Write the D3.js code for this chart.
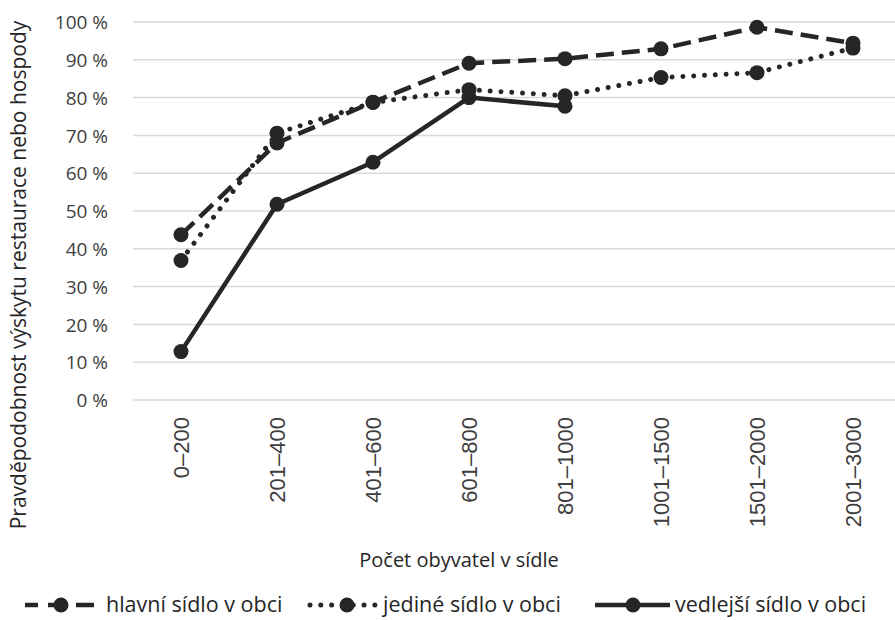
<!DOCTYPE html>
<html><head><meta charset="utf-8">
<script src="https://cdn.jsdelivr.net/npm/d3@7"></script>
<style>body{margin:0;background:#fff}svg{display:block}</style>
</head><body>
<script>
const categories = ["0–200","201–400","401–600","601–800","801–1000","1001–1500","1501–2000","2001–3000"];
const hlavni   = [43.7, 68.0, 78.8, 89.1, 90.3, 92.9, 98.6, 94.4];
const jedine   = [36.9, 70.6, 78.7, 82.1, 80.5, 85.3, 86.6, 93.1];
const vedlejsi = [12.8, 51.8, 62.9, 80.0, 77.7, null, null, null];
const yTicks = [0,10,20,30,40,50,60,70,80,90,100];
const seriesNames = ["hlavní sídlo v obci","jediné sídlo v obci","vedlejší sídlo v obci"];
const yTitle = "Pravděpodobnost  výskytu restaurace nebo hospody";
const xTitle = "Počet obyvatel v sídle";

const W = 895, H = 620;
const col = "#262626";
const svg = d3.select("body").append("svg").attr("width", W).attr("height", H);

const x = d3.scaleBand().domain(categories).range([133, 901]);
const y = d3.scaleLinear().domain([0, 100]).range([400, 22]);
const cx = c => x(c) + x.bandwidth() / 2;

// gridlines
svg.append("g").selectAll("line").data(yTicks).join("line")
  .attr("x1", 133).attr("x2", 900)
  .attr("y1", d => y(d)).attr("y2", d => y(d))
  .attr("stroke", "#d9d9d9").attr("stroke-width", 1.5);

// y axis labels
const yAxis = d3.axisLeft(y).tickValues(yTicks).tickFormat(d => d + " %").tickSize(0).tickPadding(0);
const yg = svg.append("g").attr("transform", "translate(108,0)").call(yAxis);
yg.select(".domain").remove();
yg.selectAll("text").attr("font-family", "Open Sans").attr("font-size", 19).attr("fill", "#404040").attr("dy", "0.35em");

// x axis labels
const xAxis = d3.axisBottom(x).tickSize(0).tickPadding(0);
const xg = svg.append("g").attr("transform", "translate(0,417)").call(xAxis);
xg.select(".domain").remove();
xg.selectAll("text")
  .attr("font-family", "Liberation Sans").attr("font-size", 22).attr("fill", "#404040")
  .attr("text-anchor", "end").attr("y", 0).attr("dy", "0.36em")
  .attr("transform", "rotate(-90)");

// titles
svg.append("text").attr("x", 459).attr("y", 567).attr("text-anchor", "middle")
  .attr("font-family", "Open Sans").attr("font-size", 20).attr("fill", "#262626").text(xTitle);
svg.append("text").attr("transform", "translate(26,275) rotate(-90)").attr("text-anchor", "middle")
  .attr("font-family", "Open Sans").attr("font-size", 21).attr("fill", "#262626").text(yTitle);

const styles = [
  {dash: "18,8", cap: "butt", w: 4.5},
  {dash: "0.01,10.8", cap: "round", w: 5},
  {dash: null, cap: "butt", w: 4.5}
];
const data = [hlavni, jedine, vedlejsi];
const line = d3.line().defined(d => d.v != null).x(d => cx(d.c)).y(d => y(d.v));

data.forEach((vals, i) => {
  const pts = categories.map((c, j) => ({c, v: vals[j]}));
  const g = svg.append("g");
  g.append("path").datum(pts).attr("d", line).attr("fill", "none")
    .attr("stroke", col).attr("stroke-width", styles[i].w)
    .attr("stroke-linecap", styles[i].cap).attr("stroke-linejoin", "round")
    .attr("stroke-dasharray", styles[i].dash);
  g.selectAll("circle").data(pts.filter(d => d.v != null)).join("circle")
    .attr("cx", d => cx(d.c)).attr("cy", d => y(d.v)).attr("r", 7.5).attr("fill", col);
});

// legend
const leg = [
  {x1: 25, x2: 98, m: 61, tx: 106},
  {x1: 310, x2: 375, m: 347, tx: 383},
  {x1: 595, x2: 670, m: 633, tx: 675}
];
const ly = 605;
leg.forEach((l, i) => {
  const g = svg.append("g");
  g.append("line").attr("x1", l.x1).attr("x2", l.x2).attr("y1", ly).attr("y2", ly)
    .attr("stroke", col).attr("stroke-width", styles[i].w)
    .attr("stroke-linecap", styles[i].cap)
    .attr("stroke-dasharray", i === 0 ? "13,10,18,10,18,10" : styles[i].dash);
  g.append("circle").attr("cx", l.m).attr("cy", ly).attr("r", 7.5).attr("fill", col);
  g.append("text").attr("x", l.tx).attr("y", 612)
    .attr("font-family", "Open Sans").attr("font-size", 21.5).attr("fill", "#262626").text(seriesNames[i]);
});
</script>
</body></html>
